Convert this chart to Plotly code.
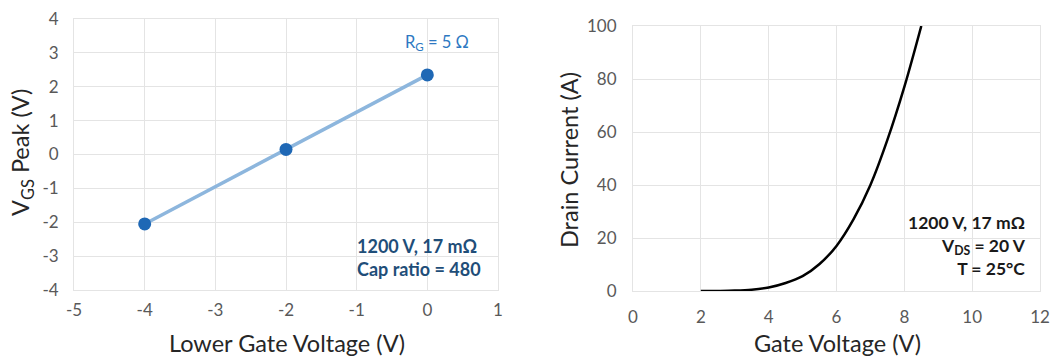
import plotly.graph_objects as go

# Left chart data
lower_gate_v = [-4, -2, 0]
vgs_peak = [-2.05, 0.15, 2.35]
left_xticks = [-5, -4, -3, -2, -1, 0, 1]
left_xlabels = ["-5", "-4", "-3", "-2", "-1", "0", "1"]
left_yticks = [-4, -3, -2, -1, 0, 1, 2, 3, 4]
left_ylabels = ["-4", "-3", "-2", "-1", "0", "1", "2", "3", "4"]

# Right chart data
gate_v = [2, 2.5, 3, 3.5, 4, 4.5, 5, 5.5, 6, 6.5, 7, 7.5, 8, 8.5]
drain_i = [0, 0.03, 0.15, 0.5, 1.3, 3.0, 5.6, 10.2, 17, 27, 40, 57, 77, 100]

FONT = "Lato"
TICKC = "#595959"
GRID = "#e4e4e4"
W, H = 1057, 357

fig = go.Figure()
fig.add_trace(go.Scatter(x=lower_gate_v, y=vgs_peak, mode="lines+markers",
                         line=dict(color="#8db6dd", width=3.5),
                         marker=dict(color="#1f68b5", size=13),
                         xaxis="x", yaxis="y", showlegend=False))
fig.add_trace(go.Scatter(x=gate_v, y=drain_i, mode="lines", line_shape="spline",
                         line=dict(color="black", width=2.5),
                         xaxis="x2", yaxis="y2", showlegend=False))

axcommon = dict(showgrid=True, gridcolor=GRID, gridwidth=1, zeroline=False,
                showline=True, linecolor=GRID, mirror=True, automargin=False,
                tickfont=dict(family=FONT, size=17, color=TICKC))

fig.update_layout(
    width=W, height=H, margin=dict(l=0, r=0, t=0, b=0),
    paper_bgcolor="white", plot_bgcolor="white",
    xaxis=dict(domain=[74 / W, 498 / W], range=[-5, 1], tickvals=left_xticks, ticktext=left_xlabels,
               anchor="y", ticklabelstandoff=5, **axcommon),
    yaxis=dict(domain=[1 - 290 / H, 1 - 19 / H], range=[-4, 4], tickvals=left_yticks, ticktext=left_ylabels,
               anchor="x", ticklabelstandoff=11, **axcommon),
    xaxis2=dict(domain=[633 / W, 1040 / W], range=[0, 12], dtick=2, anchor="y2",
                ticklabelstandoff=11, **axcommon),
    yaxis2=dict(domain=[1 - 291 / H, 1 - 26 / H], range=[0, 100], dtick=20, anchor="x2",
                ticklabelstandoff=12, **axcommon),
)

title_font = dict(family=FONT, size=23.5, color="#262626")
def paper_text(px, py, text, angle=0):
    fig.add_annotation(x=px / W, y=1 - py / H, xref="paper", yref="paper", text=text,
                       showarrow=False, textangle=angle, xanchor="center", yanchor="middle",
                       font=title_font)

paper_text(287, 343, "Lower Gate Voltage (V)")
paper_text(22, 153, "V<sub>GS</sub> Peak (V)", -90)
paper_text(837, 343, "Gate Voltage (V)")
paper_text(569, 160, "Drain Current (A)", -90)

fig.add_annotation(x=0.14, y=3.32, xref="x", yref="y", text="R<sub>G</sub> = 5 Ω",
                   showarrow=False, font=dict(family=FONT, size=16.5, color="#2e78c2"))
fig.add_annotation(x=-1.03, y=-3.05, xref="x", yref="y", xanchor="left", yanchor="middle", align="left",
                   text="<b>1200 V, 17 mΩ<br>Cap ratio = 480</b>", showarrow=False,
                   font=dict(family=FONT, size=18, color="#1f4e79"))
fig.add_annotation(x=11.66, y=17, xref="x2", yref="y2", xanchor="right", yanchor="middle", align="right",
                   text="<b>1200 V, 17 mΩ<br>V<sub>DS</sub> = 20 V<br>T = 25°C</b>", showarrow=False,
                   font=dict(family=FONT, size=17.5, color="#1a1a1a"))

fig.write_html("out.html")
